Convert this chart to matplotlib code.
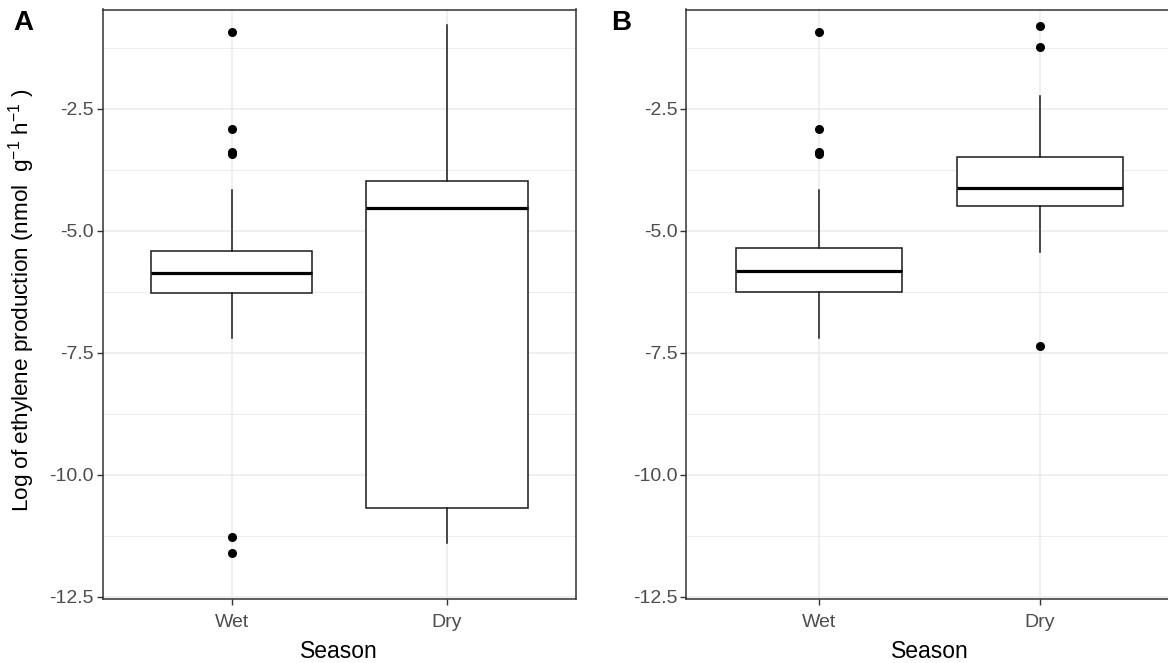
import matplotlib
matplotlib.use("Agg")
import matplotlib.pyplot as plt
import numpy as np

plt.rcParams['font.family'] = ['Liberation Sans', 'DejaVu Sans']
plt.rcParams['mathtext.fontset'] = 'custom'
plt.rcParams['mathtext.rm'] = 'Liberation Sans'
plt.rcParams['mathtext.it'] = 'Liberation Sans:italic'
plt.rcParams['mathtext.bf'] = 'Liberation Sans:bold'
plt.rcParams['axes.unicode_minus'] = False

# ---- data ----
seasons = ["Wet", "Dry"]
panel_labels = ["A", "B"]

# Panel A
a_whislo = [-7.20, -11.41]
a_q1 = [-6.28, -10.68]
a_med = [-5.87, -4.53]
a_q3 = [-5.41, -3.98]
a_whishi = [-4.17, -0.78]
a_fliers = [[-0.93, -2.92, -3.39, -3.43, -11.27, -11.60], []]

# Panel B
b_whislo = [-7.20, -5.43]
b_q1 = [-6.25, -4.50]
b_med = [-5.82, -4.13]
b_q3 = [-5.36, -3.48]
b_whishi = [-4.17, -2.23]
b_fliers = [[-0.93, -2.92, -3.39, -3.43], [-0.79, -1.22, -7.36]]

y_ticks = [-12.5, -10.0, -7.5, -5.0, -2.5]
y_minor = [-11.25, -8.75, -6.25, -3.75, -1.25]
y_limits = (-12.55, -0.46)

ylabel = r"Log of ethylene production (nmol  g$^{-1}$ h$^{-1}$ )"
xlabel = "Season"

W, H = 1168, 663
fig = plt.figure(figsize=(W / 100, H / 100), dpi=100)

def px_axes(left, right, top, bottom):
    return fig.add_axes([left / W, 1 - bottom / H, (right - left) / W, (bottom - top) / H])

ax_a = px_axes(102.7, 576.0, 9.5, 599.0)
ax_b = px_axes(686.5, 1172.5, 9.5, 599.0)

grid_col = "#EBEBEB"
spine_col = "#333333"
text_col = "#4D4D4D"

def draw(ax, whislo, q1, med, q3, whishi, fliers):
    stats = []
    for i in range(len(seasons)):
        stats.append(dict(whislo=whislo[i], q1=q1[i], med=med[i], q3=q3[i],
                          whishi=whishi[i], fliers=fliers[i], label=seasons[i]))
    ax.set_xlim(0.4, 2.6)
    ax.set_ylim(*y_limits)
    for y in y_minor:
        ax.axhline(y, color=grid_col, lw=0.6, zorder=0)
    for y in y_ticks:
        ax.axhline(y, color=grid_col, lw=1.1, zorder=0)
    for x in [1, 2]:
        ax.axvline(x, color=grid_col, lw=1.1, zorder=0)
    ax.bxp(stats, positions=[1, 2], widths=0.75, showcaps=False, patch_artist=True,
           boxprops=dict(facecolor="white", edgecolor="#1a1a1a", linewidth=1.1),
           whiskerprops=dict(color="#1a1a1a", linewidth=1.1),
           medianprops=dict(color="black", linewidth=2.3),
           flierprops=dict(marker="o", markerfacecolor="black", markeredgecolor="black",
                           markersize=5.5, linestyle="none"),
           zorder=2)
    ax.set_xticks([1, 2])
    ax.set_xticklabels(seasons)
    ax.set_yticks(y_ticks)
    ax.set_yticklabels([f"{v:.1f}" for v in y_ticks])
    ax.tick_params(axis="both", colors=spine_col, labelcolor=text_col, labelsize=14,
                   length=4, width=1.0)
    ax.tick_params(axis="y", pad=2.5)
    ax.tick_params(axis="x", pad=6.5)
    for s in ax.spines.values():
        s.set_color(spine_col)
        s.set_linewidth(1.1)
    ax.set_xlabel(xlabel, fontsize=16.5, color="black", labelpad=7)
    ax.set_facecolor("white")

draw(ax_a, a_whislo, a_q1, a_med, a_q3, a_whishi, a_fliers)
draw(ax_b, b_whislo, b_q1, b_med, b_q3, b_whishi, b_fliers)

fig.text(22 / W, 1 - 300 / H, ylabel, rotation=90, fontsize=16.2, color="black",
         ha="center", va="center")
fig.text(23 / W, 1 - 23 / H, panel_labels[0], fontsize=20, fontweight="bold",
         ha="center", va="center")
fig.text(621 / W, 1 - 23 / H, panel_labels[1], fontsize=20, fontweight="bold",
         ha="center", va="center")

fig.savefig("out.png", dpi=100, facecolor="white")
